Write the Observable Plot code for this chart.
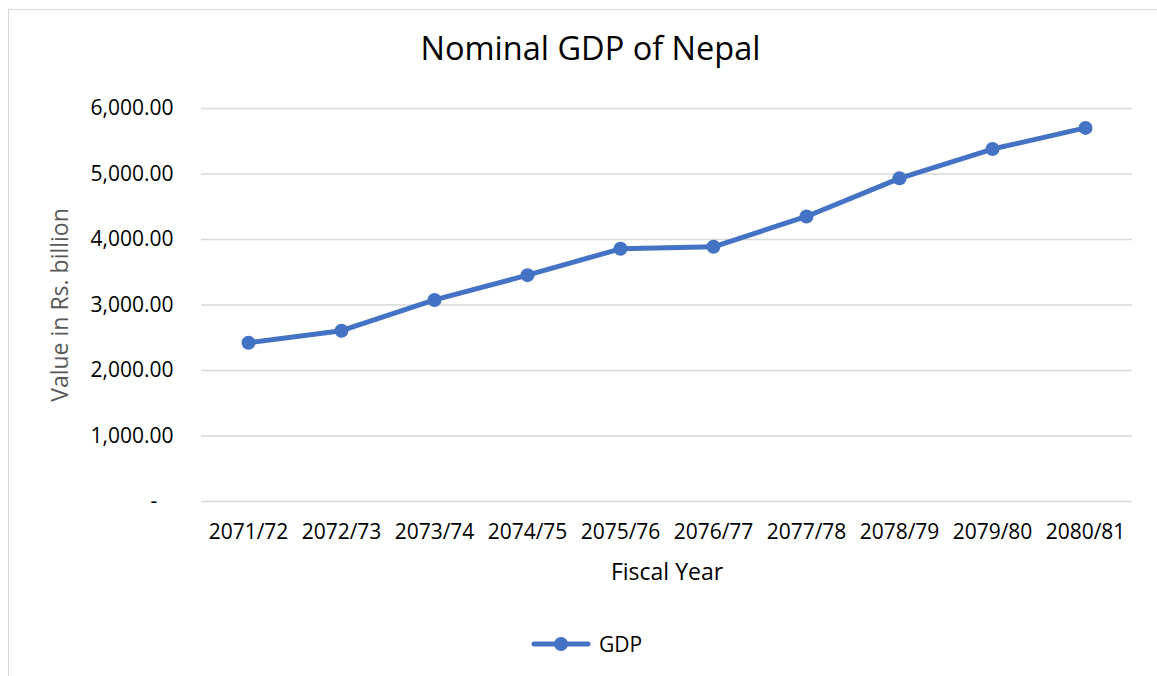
<!DOCTYPE html>
<html>
<head>
<meta charset="utf-8">
<script src="https://cdn.jsdelivr.net/npm/d3@7"></script>
<script src="https://cdn.jsdelivr.net/npm/@observablehq/plot@0.6"></script>
<style>
  body { margin: 0; background: #fff; font-family: "Open Sans", sans-serif; }
  #wrap { position: relative; width: 1157px; height: 676px; overflow: hidden; background: #fff; }
  #frame { position: absolute; left: 8px; top: 9px; width: 1180px; height: 700px; border: 1.5px solid #d9d9d9; box-sizing: border-box; }
  #title { position: absolute; left: 12px; width: 1157px; top: 32px; text-align: center; font-size: 32.5px; color: #000; line-height: 1; }
  #chart { position: absolute; left: 0; top: 80px; }
  #legend { position: absolute; top: 630px; left: 530px; display: flex; align-items: center; font-size: 21px; color: #000; }
  #legend span { margin-left: 7px; }
</style>
</head>
<body>
<div id="wrap">
  <div id="frame"></div>
  <div id="title">Nominal GDP of Nepal</div>
  <div id="chart"></div>
  <div id="legend"></div>
</div>
<script>
const years = ["2071/72", "2072/73", "2073/74", "2074/75", "2075/76", "2076/77", "2077/78", "2078/79", "2079/80", "2080/81"];
const gdp = [2424, 2608, 3077, 3456, 3858, 3889, 4352, 4934, 5381, 5704];
const yTicks = [0, 1000, 2000, 3000, 4000, 5000, 6000];
const seriesName = "GDP";
const yTitle = "Value in Rs. billion";
const xTitle = "Fiscal Year";

const color = "#4472C4";
const data = years.map((y, i) => ({year: y, value: gdp[i]}));
const fmt = d3.format(",.2f");

const chart = Plot.plot({
  width: 1157,
  height: 520,
  marginTop: 28,
  marginBottom: 99,
  marginLeft: 201,
  marginRight: 25,
  style: { fontFamily: "Open Sans, sans-serif", fontSize: "21px", color: "#000", background: "transparent" },
  x: { type: "point", domain: years, padding: 0.5, label: null },
  y: { domain: [0, 6000], label: null },
  marks: [
    Plot.ruleY(yTicks, { stroke: "#d9d9d9", strokeWidth: 1.5 }),
    Plot.axisY({ ticks: yTicks, tickSize: 0, tickPadding: 28, label: null,
      tickFormat: d => d === 0 ? "-\u00a0\u00a0\u00a0" : fmt(d) }),
    Plot.axisX({ tickSize: 0, tickPadding: 23, label: null }),
    Plot.lineY(data, { x: "year", y: "value", stroke: color, strokeWidth: 5, strokeLinejoin: "round", strokeLinecap: "round" }),
    Plot.dot(data, { x: "year", y: "value", r: 7, fill: color, stroke: "none" }),
    Plot.text([xTitle], { frameAnchor: "bottom", textAnchor: "middle", lineAnchor: "middle", dy: 71, fontSize: 23, fill: "#000" }),
    Plot.text([yTitle], { frameAnchor: "left", textAnchor: "middle", lineAnchor: "middle", dx: -141, rotate: -90, fontSize: 23, fill: "#595959" })
  ]
});
document.getElementById("chart").appendChild(chart);

// legend
const leg = d3.select("#legend");
const sw = leg.append("svg").attr("width", 62).attr("height", 20);
sw.append("line").attr("x1", 4).attr("x2", 58).attr("y1", 10).attr("y2", 10)
  .attr("stroke", color).attr("stroke-width", 5).attr("stroke-linecap", "round");
sw.append("circle").attr("cx", 31).attr("cy", 10).attr("r", 7).attr("fill", color);
leg.append("span").text(seriesName);
</script>
</body>
</html>
